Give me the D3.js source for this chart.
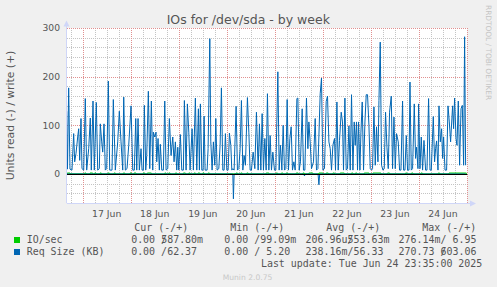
<!DOCTYPE html>
<html>
<head>
<meta charset="utf-8">
<script src="https://cdn.jsdelivr.net/npm/d3@7"></script>
<style>
body { margin: 0; background: #f0f0f0; }
svg { display: block; }
.sans { font-family: "DejaVu Sans", sans-serif; fill: #555; }
.mono { font-family: "DejaVu Sans Mono", monospace; font-size: 9.95px; fill: #555; white-space: pre; }
</style>
</head>
<body>
<div id="chart"></div>
<script>
// hours since 17 Jun 2025 00:00 UTC, value
var reqWrite = [
  [-8.0,129],[-7.6,10],[-7.0,177],[-6.35,10],[-5.35,8],[-4.5,83],[-4.0,25],[-3.35,42],[-2.5,76],[-2.0,93],
  [-1.5,28],[-0.85,114],[-0.35,11],[0.5,8],[1.3,155],[2.0,8],[3.0,52],[3.8,115],[4.3,8],[5.15,150],
  [5.8,8],[6.8,147],[7.5,8],[8.3,11],[8.8,103],[9.5,66],[10.0,45],[10.65,103],[11.3,8],[12.0,11],
  [12.8,191],[13.5,8],[14.65,8],[15.3,153],[16.3,8],[17.5,66],[18.3,129],[19.15,66],[20.0,8],[20.5,158],
  [21.3,8],[22.15,11],[23.0,59],[24.15,140],[25.0,8],[25.8,8],[26.5,114],[27.0,8],[27.65,114],[28.3,8],
  [29.15,52],[29.65,8],[30.3,8],[30.8,141],[31.5,8],[32.0,38],[32.8,170],[33.5,11],[34.3,150],[35.0,8],
  [35.3,86],[36.0,76],[36.65,86],[37.0,25],[37.65,73],[38.3,8],[38.8,61],[39.5,8],[40.3,8],[41.0,150],
  [41.65,8],[42.5,11],[43.3,114],[44.15,38],[45.0,76],[45.65,25],[46.3,66],[47.0,8],[47.5,55],[48.0,8],
  [48.8,81],[49.5,8],[50.3,8],[50.8,151],[51.65,8],[52.3,144],[53.0,86],[53.65,8],[54.65,93],[55.3,8],
  [56.3,156],[57.0,8],[57.8,134],[58.3,8],[58.8,144],[59.5,8],[60.15,8],[60.65,119],[61.15,8],[62.15,8],
  [62.65,52],[63.5,278],[64.0,66],[64.65,8],[65.3,66],[66.0,18],[66.5,114],[67.15,8],[68.0,11],[68.65,59],
  [69.3,177],[70.0,8],[70.65,8],[71.3,83],[72.0,8],[72.65,8],[73.3,84],[74.0,59],[74.5,8],[75.0,11],
  [75.65,8],[76.65,139],[77.3,8],[78.0,11],[78.65,52],[79.3,151],[80.0,8],[80.65,38],[81.3,18],[82.3,157],
  [83.0,86],[83.65,8],[84.3,8],[85.15,45],[86.0,11],[86.8,127],[87.65,8],[88.3,103],[89.0,8],[89.65,124],
  [90.3,8],[91.0,73],[91.65,8],[92.3,165],[93.0,8],[93.65,79],[94.3,8],[95.0,45],[95.8,8],[96.5,8],
  [97.5,210],[98.15,8],[98.8,59],[99.5,8],[100.15,100],[100.8,8],[101.5,11],[102.15,153],[102.8,8],[103.5,73],
  [104.15,97],[104.8,8],[105.5,25],[106.15,8],[107.0,155],[107.5,156],[108.15,8],[108.8,25],[109.65,134],[110.3,8],
  [111.0,8],[111.8,156],[112.5,52],[113.0,107],[113.65,66],[114.3,11],[115.3,25],[116.15,114],[116.8,8],[117.5,11],
  [118.65,165],[119.3,197],[120.0,8],[120.8,11],[121.65,149],[122.3,160],[123.0,66],[123.65,52],[124.3,8],[125.0,59],
  [125.8,73],[126.3,8],[127.0,148],[127.65,8],[128.3,69],[129.15,127],[129.8,107],[130.3,8],[131.0,156],[131.65,8],
  [132.3,11],[133.0,99],[133.65,8],[134.3,163],[135.0,8],[135.65,107],[136.15,59],[136.8,107],[137.3,8],[137.8,107],
  [138.5,8],[139.0,86],[139.65,148],[140.3,8],[141.0,107],[141.65,163],[142.3,163],[143.0,100],[143.65,11],[144.3,8],
  [144.8,11],[145.5,138],[146.15,18],[146.8,97],[147.5,25],[148.0,151],[148.65,271],[149.3,18],[150.0,8],[150.65,11],
  [151.3,127],[152.0,55],[152.65,11],[153.3,127],[154.15,160],[154.8,11],[155.5,117],[156.15,11],[156.8,83],[157.65,66],
  [158.3,8],[159.0,8],[159.8,150],[160.3,8],[161.0,8],[161.65,79],[162.3,8],[163.0,8],[163.5,189],[164.15,8],
  [164.8,11],[165.65,144],[166.3,32],[166.8,55],[167.5,11],[167.8,144],[168.5,11],[169.15,76],[169.8,8],[170.5,69],
  [171.3,8],[172.0,8],[172.8,155],[173.5,8],[174.15,8],[175.15,118],[175.8,25],[176.3,52],[176.8,68],[177.5,8],
  [178.0,140],[178.65,66],[179.3,93],[179.8,32],[180.3,76],[181.0,8],[181.8,8],[182.5,140],[183.15,107],[183.8,66],
  [184.8,140],[185.3,93],[185.8,156],[186.5,73],[187.0,59],[187.65,150],[188.3,18],[189.0,134],[189.65,141],[190.3,18],
  [190.8,282],[191.3,18]
];
var reqRead = [[-7.84,0],[75.0,0],[75.3,51],[75.65,0],[110.5,0],[110.8,4],[111.1,0],[117.6,0],[118.0,22],[118.4,0],[191.3,0]];
var ioRead = [[-7.84,0],[191.3,0]];
// [start hour, end hour, IO/sec write]
var ioWriteBursts = [
  [-7.7,-6.35,2],[1.0,1.65,2],[3.65,5.0,2],[6.0,6.65,2],[8.65,9.3,2],[12.65,13.3,2],[15.65,16.3,2],[20.3,21.0,2],
  [23.65,24.3,2],[25.65,26.65,2],[30.3,31.0,2],[32.3,34.3,2],[41.0,41.65,2],[43.0,43.65,2],[46.3,47.0,2],[50.3,51.3,2],
  [53.0,53.65,2],[55.65,56.3,2],[57.65,58.5,2],[60.0,60.65,2],[62.65,63.3,2],[76.65,77.3,2],[79.0,79.65,2],[82.0,82.65,2],
  [91.65,93.0,2],[96.65,97.3,2],[99.3,100.0,2],[101.65,102.3,2],[106.65,107.65,2],[110.0,110.65,2],[113.0,115.0,2],
  [118.0,120.0,2],[121.65,122.65,2],[125.0,125.8,2],[128.65,130.65,2],[134.3,135.0,2],[136.3,137.0,2],[140.65,143.0,2],
  [145.0,149.0,2],[152.3,153.3,2],[161.3,162.0,2],[164.3,165.0,2],[169.0,169.65,2],[177.65,178.3,2],[183.0,191.65,2]
];
var yTicks = [0, 100, 200, 300];
var legendNames = ["IO/sec", "Req Size (KB)"];
var legendColors = ["#00cc00", "#0066b3"];
var legendHeads = ["Cur (-/+)", "Min (-/+)", "Avg (-/+)", "Max (-/+)"];
var legendCur = [["  0.00 ", "587.80m"], ["  0.00 ", " 62.37"]];
var legendMin = [["  0.00 ", " 99.09m"], ["  0.00 ", "  5.20"]];
var legendAvg = [["206.96u", "553.63m"], ["238.16m", " 56.33"]];
var legendMax = [["276.14m", "  6.95"], ["270.73 ", "603.06"]];

var width = 497, height = 287,
    plotLeft = 67, plotRight = 467.3, plotTop = 28, plotBottom = 203.2,
    cw = 6.0;

var base = Date.UTC(2025, 5, 17);
function t(h) { return new Date(base + h * 3600e3); }

var x = d3.scaleUtc().domain([t(-7.84), t(192.14)]).range([plotLeft, plotRight]);
var y = d3.scaleLinear().domain([-60, 300]).range([plotBottom, plotTop]);

var svg = d3.select("#chart").append("svg")
    .attr("width", width)
    .attr("height", height);

svg.append("rect").attr("width", width).attr("height", height).attr("fill", "#f0f0f0");
svg.append("rect")
    .attr("x", plotLeft).attr("y", plotTop)
    .attr("width", plotRight - plotLeft).attr("height", plotBottom - plotTop)
    .attr("fill", "#fff");

function px(v) { return Math.round(v) + 0.5; }

// minor grid
var sixHours = d3.utcHour.every(6).range(x.domain()[0], x.domain()[1]);
svg.append("g").selectAll("line")
    .data(sixHours.filter(function(d) { return d.getUTCHours() != 0; }))
    .enter().append("line")
    .attr("x1", function(d) { return px(x(d)); })
    .attr("x2", function(d) { return px(x(d)); })
    .attr("y1", plotTop).attr("y2", plotBottom)
    .attr("stroke", "#c4c4c4").attr("stroke-dasharray", "1,1");

svg.append("g").selectAll("line")
    .data(d3.range(-40, 300, 20).filter(function(d) { return d % 100 != 0; }))
    .enter().append("line")
    .attr("x1", plotLeft).attr("x2", plotRight)
    .attr("y1", function(d) { return px(y(d)); })
    .attr("y2", function(d) { return px(y(d)); })
    .attr("stroke", "#c4c4c4").attr("stroke-dasharray", "1,1");

// major grid
svg.append("g").selectAll("line")
    .data(d3.utcDay.range(x.domain()[0], x.domain()[1]))
    .enter().append("line")
    .attr("x1", function(d) { return px(x(d)); })
    .attr("x2", function(d) { return px(x(d)); })
    .attr("y1", plotTop).attr("y2", plotBottom)
    .attr("stroke", "#e09090").attr("stroke-dasharray", "1,1");

svg.append("g").selectAll("line")
    .data([100, 200, 300])
    .enter().append("line")
    .attr("x1", plotLeft).attr("x2", plotRight)
    .attr("y1", function(d) { return px(y(d)); })
    .attr("y2", function(d) { return px(y(d)); })
    .attr("stroke", "#e09090").attr("stroke-dasharray", "1,1");

// axes
var axisColor = "#cfd6f8";
svg.append("line").attr("x1", plotLeft - 0.5).attr("x2", plotLeft - 0.5).attr("y1", plotBottom).attr("y2", 23)
    .attr("stroke", axisColor);
svg.append("path").attr("d", "M" + (plotLeft - 3.5) + ",26.5L" + (plotLeft - 0.5) + ",20.5L" + (plotLeft + 2.5) + ",26.5Z")
    .attr("fill", axisColor);
svg.append("line").attr("x1", plotLeft).attr("x2", 472).attr("y1", px(plotBottom)).attr("y2", px(plotBottom))
    .attr("stroke", axisColor);
svg.append("path").attr("d", "M470," + (px(plotBottom) - 3) + "L476," + px(plotBottom) + "L470," + (px(plotBottom) + 3) + "Z")
    .attr("fill", axisColor);

// y tick labels
svg.append("g").selectAll("text")
    .data(yTicks)
    .enter().append("text")
    .attr("class", "sans")
    .style("font-size", "9.2px")
    .attr("x", 60).attr("y", function(d) { return y(d) + 3.3; })
    .attr("text-anchor", "end")
    .text(function(d) { return d; });

// x tick labels at noon
var noons = d3.utcHour.every(12).range(x.domain()[0], x.domain()[1])
    .filter(function(d) { return d.getUTCHours() == 12; });
svg.append("g").selectAll("text")
    .data(noons)
    .enter().append("text")
    .attr("class", "sans")
    .style("font-size", "9.3px")
    .attr("x", function(d) { return x(d); }).attr("y", 216.5)
    .attr("text-anchor", "middle")
    .text(d3.utcFormat("%d Jun"));

// data
svg.append("clipPath").attr("id", "clip").append("rect")
    .attr("x", plotLeft).attr("y", plotTop - 2).attr("width", plotRight - plotLeft).attr("height", plotBottom - plotTop + 2);

var line = d3.line()
    .x(function(d) { return x(t(d[0])); })
    .y(function(d) { return y(d[1]); });
var readLine = d3.line()
    .x(function(d) { return x(t(d[0])); })
    .y(function(d) { return y(-d[1]); });

var ioWrite = [];
ioWriteBursts.forEach(function(b) {
    ioWrite.push([b[0], 0], [b[0], b[2]], [b[1], b[2]], [b[1], 0]);
});

var plot = svg.append("g").attr("clip-path", "url(#clip)");
plot.append("path").datum(ioRead).attr("d", readLine)
    .attr("fill", "none").attr("stroke", legendColors[0]);
plot.append("path").datum(ioWrite).attr("d", line)
    .attr("fill", "none").attr("stroke", legendColors[0]);
plot.append("path").datum(reqRead).attr("d", readLine)
    .attr("fill", "none").attr("stroke", legendColors[1]);
plot.append("path").datum(reqWrite).attr("d", line)
    .attr("fill", "none").attr("stroke", legendColors[1]).attr("stroke-linejoin", "round");

svg.append("line").attr("x1", plotLeft).attr("x2", plotRight)
    .attr("y1", px(y(0))).attr("y2", px(y(0)))
    .attr("stroke", "#000");

// title and labels
svg.append("text").attr("class", "sans")
    .style("font-size", "12.5px")
    .attr("x", 248.3).attr("y", 24)
    .attr("text-anchor", "middle")
    .text("IOs for /dev/sda - by week");

svg.append("text").attr("class", "sans")
    .style("font-size", "10.8px")
    .attr("transform", "translate(14.2,115.5) rotate(-90)")
    .attr("text-anchor", "middle")
    .text("Units read (-) / write (+)");

svg.append("text").attr("class", "sans")
    .style("font-size", "7.4px").style("fill", "#c4c4c4")
    .attr("transform", "translate(485.5,5) rotate(90)")
    .text("RRDTOOL / TOBI OETIKER");

// legend
var headX = [134.3, 230.3, 326.3, 422.3];
svg.append("g").selectAll("text")
    .data(legendHeads)
    .enter().append("text")
    .attr("class", "mono")
    .attr("x", function(d, i) { return headX[i]; })
    .attr("y", 230.8)
    .text(function(d) { return d; });

var colX = [119.2, 212.3, 305.5, 398.5];
var cols = [legendCur, legendMin, legendAvg, legendMax];
legendNames.forEach(function(name, r) {
    var ly = 243.3 + r * 12;
    svg.append("rect")
        .attr("x", 14).attr("y", ly - 6.3).attr("width", 6).attr("height", 6)
        .attr("fill", legendColors[r]);
    svg.append("text").attr("class", "mono")
        .attr("x", 26.7).attr("y", ly).text(name);
    cols.forEach(function(c, i) {
        svg.append("text").attr("class", "mono")
            .attr("x", colX[i]).attr("y", ly).text(c[r][0] + "/");
        svg.append("text").attr("class", "mono")
            .attr("x", colX[i] + 7 * cw).attr("y", ly).text(c[r][1]);
    });
});

svg.append("text").attr("class", "mono")
    .attr("x", 482.3).attr("y", 266.8)
    .attr("text-anchor", "end")
    .text("Last update: Tue Jun 24 23:35:00 2025");

svg.append("text").attr("class", "sans")
    .style("font-size", "7.6px").style("fill", "#c8c8c8")
    .attr("x", 247.5).attr("y", 279.5)
    .attr("text-anchor", "middle")
    .text("Munin 2.0.75");
</script>
</body>
</html>
